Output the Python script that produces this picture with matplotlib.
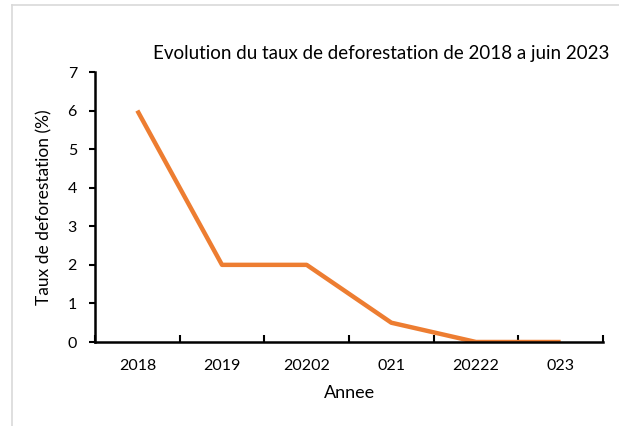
import numpy as np
import matplotlib.pyplot as plt
from matplotlib.lines import Line2D

# Data
annees = ['2018', '2019', '20202', '021', '20222', '023']
taux = [6, 2, 2, 0.5, 0, 0]

plt.rcParams['font.family'] = ['Lato', 'DejaVu Sans']

fig = plt.figure(figsize=(6.19, 4.26), dpi=100)
ax = fig.add_axes([95 / 619, 1 - 342 / 426, 508 / 619, 270 / 426])

x = np.arange(len(annees))
ax.plot(x, taux, color='#ED7D31', linewidth=3.2, solid_capstyle='butt')

ax.set_xlim(-0.5, len(annees) - 0.5)
ax.set_ylim(0, 7)
ax.set_yticks(range(0, 8))
ax.set_xticks(x)
ax.set_xticklabels(annees, fontsize=11.5)
ax.tick_params(axis='x', length=0, pad=12)
ax.set_xticks(np.arange(-0.5, len(annees)), minor=True)
ax.tick_params(axis='x', which='minor', direction='in', length=5, width=1.5)
ax.tick_params(axis='y', direction='out', length=4, width=1.5, labelsize=11.5, pad=9)

for s in ['top', 'right']:
    ax.spines[s].set_visible(False)
for s in ['left', 'bottom']:
    ax.spines[s].set_linewidth(1.8)

ax.set_xlabel('Annee', fontsize=13, labelpad=9)
ax.set_ylabel('Taux de deforestation (%)', fontsize=12.5, labelpad=11)
fig.text(381 / 619, 1 - 53 / 426, 'Evolution du taux de deforestation de 2018 a juin 2023',
         ha='center', va='center', fontsize=13.5)

# light frame around the chart area
fig.add_artist(Line2D([12 / 619, 1], [1 - 5 / 426, 1 - 5 / 426], color='#d9d9d9', lw=1.2))
fig.add_artist(Line2D([12 / 619, 12 / 619], [0, 1 - 5 / 426], color='#d9d9d9', lw=1.2))

fig.savefig('out.png', dpi=100)
